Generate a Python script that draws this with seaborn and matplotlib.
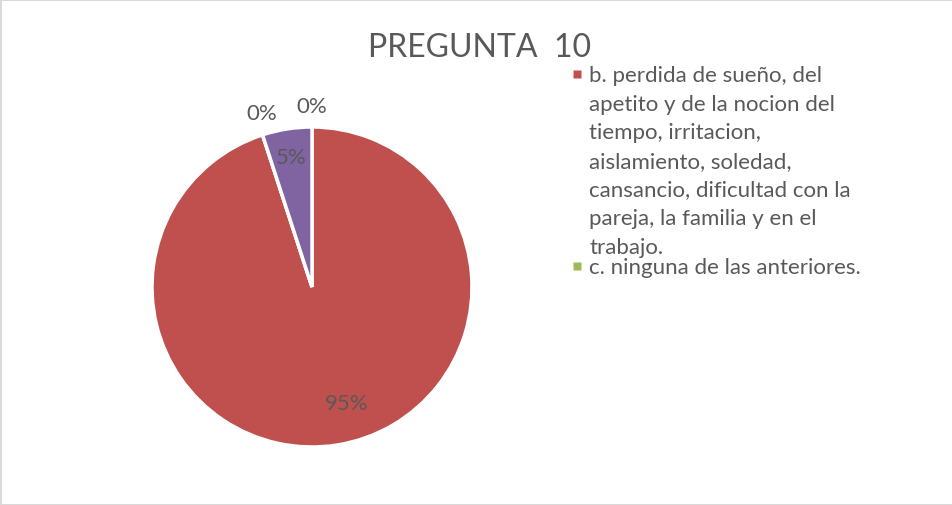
import numpy as np
import matplotlib
matplotlib.use("Agg")
import matplotlib.pyplot as plt
from matplotlib.lines import Line2D
import seaborn as sns

sns.set_style("white")
plt.rcParams['font.family'] = ['Lato', 'DejaVu Sans']

# data
opciones = ["a.", "b. perdida de sueño, del\napetito y de la nocion del\ntiempo, irritacion,\naislamiento, soledad,\ncansancio, dificultad con la\npareja, la familia y en el\ntrabajo.",
            "c. ninguna de las anteriores.", "d."]
valores = [0, 95, 0, 5]
colores = ["#4F81BD", "#C0504D", "#9BBB59", "#8064A2"]
# label placement: distance from centre (fraction of radius), position inside slice
dist_label = [1.13, 0.76, 1.13, 0.82]
frac_label = [0.0, 0.4775, 0.0, 0.5]

gris = "#595959"

fig = plt.figure(figsize=(9.53, 5.06), dpi=100, edgecolor="#d9d9d9", linewidth=2)
ax = fig.add_axes([(312 - 200) / 953, (506 - 288 - 200) / 506, 400 / 953, 400 / 506])

wedges, _ = ax.pie(valores, colors=colores, startangle=90, counterclock=False,
                   wedgeprops=dict(edgecolor="white", linewidth=2.5))
ax.set_xlim(-1.25, 1.25)
ax.set_ylim(-1.25, 1.25)

total = sum(valores)
cum = np.concatenate([[0], np.cumsum(valores)[:-1]])
for v, c0, d, f in zip(valores, cum, dist_label, frac_label):
    ang = np.deg2rad(90 - 360 * (c0 + f * v) / total)
    if v == 0 and c0 > 0:
        ang -= np.deg2rad(2)
    ax.text(d * np.cos(ang), d * np.sin(ang), f"{v / total:.0%}",
            ha="center", va="center", fontsize=16, color=gris)

fig.text(480 / 953, 1 - 48 / 506, "PREGUNTA  10", ha="center", va="center",
         fontsize=23, color=gris)

handles = [Line2D([], [], linestyle="none", marker="s", markersize=5.2,
                  markerfacecolor=colores[i], markeredgecolor="none") for i in (1, 2)]
leg = fig.legend(handles, [opciones[1], opciones[2]], loc="upper left",
                 bbox_to_anchor=(573 / 953, 1 - 66 / 506), frameon=False,
                 fontsize=16, labelcolor=gris, handlelength=0.33, handleheight=1.0,
                 handletextpad=0.4, labelspacing=0.0, borderaxespad=0, borderpad=0)
for t in leg.get_texts():
    t.set_linespacing(1.54)
for col in leg._legend_handle_box.get_children():
    for item in col.get_children():
        item.align = "top"

fig.savefig("out.png", dpi=100)
